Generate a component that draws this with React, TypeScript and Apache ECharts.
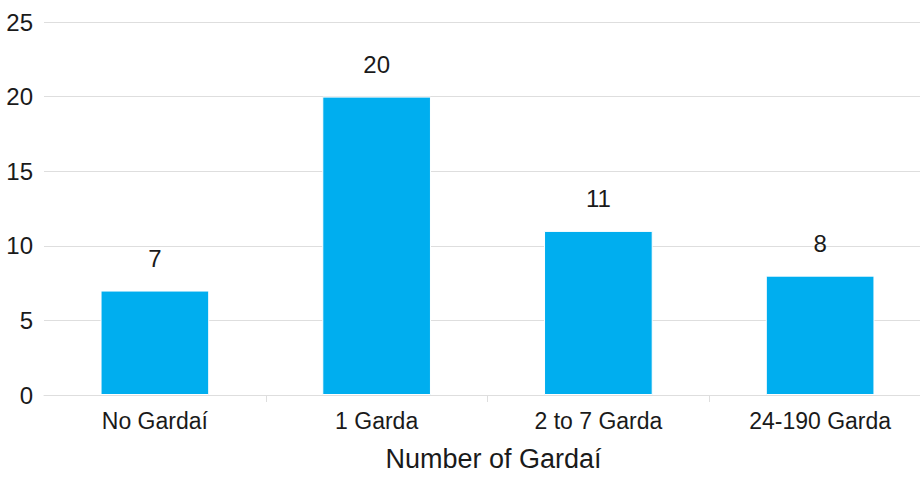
import React, { useEffect, useRef } from "react";
import * as echarts from "echarts";

const categories = ["No Gardaí", "1 Garda", "2 to 7 Garda", "24-190 Garda"];
const values = [7, 20, 11, 8];
const xAxisName = "Number of Gardaí";
const yMin = 0;
const yMax = 25;
const yInterval = 5;

const FONT = "'Liberation Sans', Arial, Helvetica, sans-serif";
const TEXT = "#1a1a1a";
const GRID = "#dedede";

export default function App() {
  const ref = useRef<HTMLDivElement>(null);
  useEffect(() => {
    document.body.style.margin = "0";
    if (!ref.current) return;
    const chart = echarts.init(ref.current, undefined, { renderer: "svg" });
    chart.setOption({
      animation: false,
      backgroundColor: "#ffffff",
      textStyle: { fontFamily: FONT },
      grid: {
        left: 44,
        right: -11,
        top: 22,
        bottom: 84,
        containLabel: false,
        outerBoundsMode: "none",
      },
      xAxis: {
        type: "category",
        data: categories,
        name: xAxisName,
        nameLocation: "middle",
        nameGap: 50,
        nameTextStyle: {
          fontSize: 27,
          color: TEXT,
          fontFamily: FONT,
          padding: [0, 0, 0, 12],
        },
        axisLine: { show: true, lineStyle: { color: GRID, width: 1 } },
        axisTick: {
          show: true,
          length: 7,
          interval: (i: number) => i !== 0,
          lineStyle: { color: GRID, width: 1 },
        },
        axisLabel: { fontSize: 23, color: TEXT, margin: 14, fontFamily: FONT },
      },
      yAxis: {
        type: "value",
        min: yMin,
        max: yMax,
        interval: yInterval,
        axisLine: { show: false },
        axisTick: { show: false },
        axisLabel: { fontSize: 24, color: TEXT, margin: 11, fontFamily: FONT },
        splitLine: { lineStyle: { color: GRID, width: 1 } },
      },
      series: [
        {
          type: "bar",
          data: values,
          barWidth: "49%",
          itemStyle: { color: "#00AEEF", borderColor: "#ffffff", borderWidth: 1 },
          label: {
            show: true,
            position: "top",
            distance: 20,
            fontSize: 24,
            color: TEXT,
            fontFamily: FONT,
          },
        },
      ],
    });
    return () => chart.dispose();
  }, []);
  return <div ref={ref} style={{ width: 920, height: 479 }} />;
}
